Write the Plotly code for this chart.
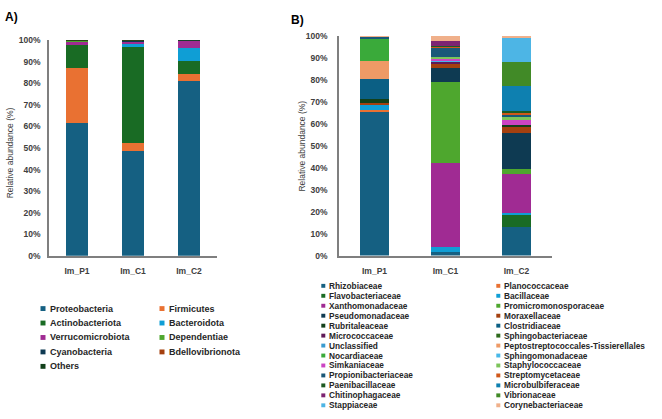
import plotly.graph_objects as go

W, H = 662, 419

samples = ["Im_P1", "Im_C1", "Im_C2"]

# ---------------- Panel A: phyla ----------------
phyla = ["Proteobacteria", "Firmicutes", "Actinobacteriota", "Bacteroidota",
         "Verrucomicrobiota", "Dependentiae", "Cyanobacteria", "Bdellovibrionota", "Others"]
phyla_colors = ["#156082", "#E97132", "#196B24", "#0F9ED5", "#A02B93",
                "#4EA72E", "#0E3A52", "#A4400F", "#12401A"]
phyla_Im_P1 = [61.5, 25.8, 10.4, 0.2, 1.6, 0.05, 0.1, 0.3, 0.05]
phyla_Im_C1 = [48.4, 3.9, 44.3, 2.0, 0.7, 0.05, 0.5, 0.05, 0.1]
phyla_Im_C2 = [81.1, 3.4, 5.9, 6.1, 3.4, 0.0, 0.05, 0.0, 0.05]

# ---------------- Panel B: families ----------------
families = ["Rhizobiaceae", "Planococcaceae", "Flavobacteriaceae", "Bacillaceae",
            "Xanthomonadaceae", "Promicromonosporaceae", "Pseudomonadaceae", "Moraxellaceae",
            "Rubritaleaceae", "Clostridiaceae", "Micrococcaceae", "Sphingobacteriaceae",
            "Unclassified", "Peptostreptococcales-Tissierellales", "Nocardiaceae",
            "Sphingomonadaceae", "Simkaniaceae", "Staphylococcaceae", "Propionibacteriaceae",
            "Streptomycetaceae", "Paenibacillaceae", "Microbulbiferaceae", "Chitinophagaceae",
            "Vibrionaceae", "Stappiaceae", "Corynebacteriaceae"]
family_colors = ["#156082", "#E97132", "#196B24", "#0F9ED5", "#A02B93", "#4EA72E",
                 "#0E3A52", "#A4400F", "#12401A", "#0B5F84", "#5F1A58", "#2E6A1C",
                 "#3A9BD0", "#EE9A66", "#3AAA3A", "#48B8E8", "#CC44C4", "#7CC45A",
                 "#1A5878", "#D0581A", "#1C5A22", "#0E80B0", "#7D2472", "#418A27",
                 "#4DB5E5", "#F0B08A"]
family_Im_P1 = [65.8, 0.4, 0.0, 2.2, 0.0, 0.0, 0.0, 1.2, 1.6, 9.0, 0.0, 0.0, 0.0, 8.2,
                10.4, 0.0, 0.0, 0.0, 0.8, 0.0, 0.0, 0.0, 0.0, 0.0, 0.2, 0.2]
family_Im_C1 = [1.5, 0.0, 0.0, 2.3, 38.4, 37.0, 6.3, 1.8, 0.0, 0.0, 1.0, 0.0, 0.3, 0.0,
                0.0, 0.4, 0.3, 1.3, 4.2, 0.3, 0.4, 0.0, 2.3, 0.0, 0.0, 2.2]
family_Im_C2 = [13.1, 0.0, 5.7, 0.8, 17.5, 2.2, 16.6, 3.1, 0.3, 0.0, 0.0, 0.0, 0.0, 0.0,
                0.0, 0.0, 2.9, 0.8, 1.3, 0.9, 0.8, 11.0, 0.0, 11.0, 11.3, 0.7]

FONT = "Liberation Sans"
TXT = "#262626"


def fx(px):
    return px / W


def fy(py):
    return 1 - py / H


fig = go.Figure()

phyla_table = list(zip(phyla_Im_P1, phyla_Im_C1, phyla_Im_C2))
for i, name in enumerate(phyla):
    fig.add_trace(go.Bar(x=samples, y=list(phyla_table[i]), name=name,
                         marker=dict(color=phyla_colors[i], line=dict(width=0)),
                         width=0.39, xaxis="x", yaxis="y", showlegend=False))

family_table = list(zip(family_Im_P1, family_Im_C1, family_Im_C2))
for i, name in enumerate(families):
    fig.add_trace(go.Bar(x=samples, y=list(family_table[i]), name=name,
                         marker=dict(color=family_colors[i], line=dict(width=0)),
                         width=0.41, xaxis="x2", yaxis="y2", showlegend=False))

axis_line = dict(showline=True, linecolor="#7f7f7f", linewidth=1.5, showgrid=False,
                 zeroline=False, ticks="")
tickfont = dict(family=FONT, size=8.5, color="#404040", weight="bold")

fig.update_layout(
    width=W, height=H, margin=dict(l=0, r=0, t=0, b=0),
    paper_bgcolor="white", plot_bgcolor="white",
    barmode="stack", showlegend=False,
    xaxis=dict(domain=[fx(49), fx(217)], anchor="y", tickfont=tickfont,
               ticklabelstandoff=6, **axis_line),
    yaxis=dict(domain=[fy(257), fy(36)], anchor="x", range=[0, 100], dtick=10,
               ticksuffix="%", tickfont=tickfont, ticklabelstandoff=5, **axis_line),
    xaxis2=dict(domain=[fx(339), fx(552)], anchor="y2", tickfont=tickfont,
                ticklabelstandoff=6, **axis_line),
    yaxis2=dict(domain=[fy(256.7), fy(31.7)], anchor="x2", range=[0, 100], dtick=10,
                ticksuffix="%", tickfont=tickfont, ticklabelstandoff=8, **axis_line),
)

ann = []
shapes = []

# panel labels
ann.append(dict(x=fx(3), y=fy(12), xref="paper", yref="paper", text="A)", showarrow=False,
                xanchor="left", yanchor="middle",
                font=dict(family=FONT, size=12, color="#000", weight="bold")))
ann.append(dict(x=fx(289), y=fy(15), xref="paper", yref="paper", text="B)", showarrow=False,
                xanchor="left", yanchor="middle",
                font=dict(family=FONT, size=12, color="#000", weight="bold")))

# y-axis titles
for xc, yc in [(10, 152), (302, 145)]:
    ann.append(dict(x=fx(xc), y=fy(yc), xref="paper", yref="paper",
                    text="Relative abundance (%)", textangle=-90, showarrow=False,
                    xanchor="center", yanchor="middle",
                    font=dict(family=FONT, size=8.5, color="#404040")))


def add_legend(names, colors, col_x, row_y0, row_dy, sq, fsize):
    for i, (nm, c) in enumerate(zip(names, colors)):
        col = i % 2
        row = i // 2
        mx = col_x[col]
        my = row_y0 + row * row_dy
        shapes.append(dict(type="rect", xref="paper", yref="paper",
                           x0=fx(mx - sq / 2), x1=fx(mx + sq / 2),
                           y0=fy(my + sq / 2), y1=fy(my - sq / 2),
                           fillcolor=c, line=dict(width=0)))
        ann.append(dict(x=fx(mx + sq / 2 + 2), y=fy(my), xref="paper", yref="paper",
                        text=nm, showarrow=False, xanchor="left", yanchor="middle",
                        font=dict(family=FONT, size=fsize, color=TXT, weight="bold")))


add_legend(phyla, phyla_colors, [43, 162], 311, 14.8, 5, 9)
add_legend(families, family_colors, [323.3, 498.3], 287.7, 10.2, 4, 8.3)

fig.update_layout(annotations=ann, shapes=shapes)

fig.write_html("out.html")
